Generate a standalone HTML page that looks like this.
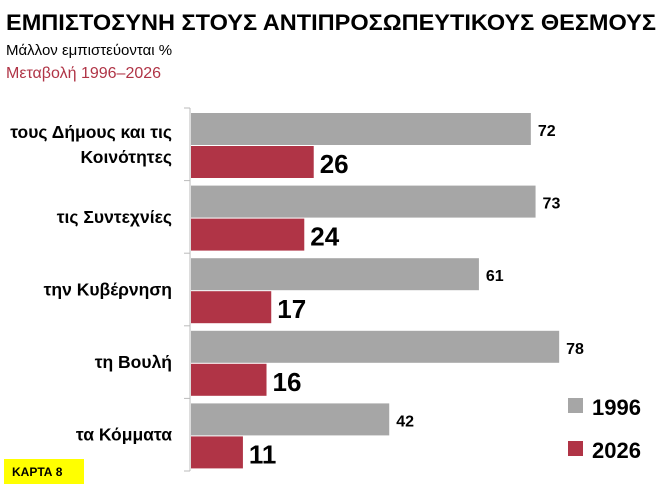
<!DOCTYPE html>
<html><head><meta charset="utf-8"><style>
body{margin:0;background:#fff;width:667px;height:493px;overflow:hidden;font-family:"Liberation Sans","DejaVu Sans",sans-serif}
svg text{font-family:"Liberation Sans","DejaVu Sans",sans-serif}
</style></head><body>
<svg width="667" height="493">
<text x="6" y="30" font-size="22" font-weight="bold" fill="#000" textLength="650" lengthAdjust="spacingAndGlyphs">ΕΜΠΙΣΤΟΣΥΝΗ ΣΤΟΥΣ ΑΝΤΙΠΡΟΣΩΠΕΥΤΙΚΟΥΣ ΘΕΣΜΟΥΣ</text>
<text x="6" y="55" font-size="15" fill="#000">Μάλλον εμπιστεύονται %</text>
<text x="6" y="78" font-size="16" fill="#b03446">Μεταβολή 1996–2026</text>
<g id="plot"></g>
<rect x="568" y="398" width="15" height="15" fill="#a6a6a6"/>
<text x="592" y="415" font-size="22" font-weight="bold">1996</text>
<rect x="568" y="441" width="15" height="15" fill="#b03446"/>
<text x="592" y="458" font-size="22" font-weight="bold">2026</text>
<rect x="4" y="459" width="80" height="25" fill="#ffff00"/>
<text x="12" y="476" font-size="12" font-weight="bold">ΚΑΡΤΑ 8</text>
</svg>
<script>
const categories=[["τους Δήμους και τις","Κοινότητες"],["τις Συντεχνίες"],["την Κυβέρνηση"],["τη Βουλή"],["τα Κόμματα"]];
const values1996=[72,73,61,78,42];
const values2026=[26,24,17,16,11];
const NS="http://www.w3.org/2000/svg";
const g=document.getElementById('plot');
const x0=191,scale=4.72,top0=108,band=72.6;
const xs=v=>x0+v*scale;
function mk(t,a){const e=document.createElementNS(NS,t);for(const k in a)e.setAttribute(k,a[k]);g.appendChild(e);return e;}
const ax=mk('line',{x1:190,y1:top0,x2:190,y2:top0+band*5,stroke:'#bbb'});


for(let i=0;i<=5;i++){const t=mk('line',{x1:184,x2:190,y1:top0+band*i,y2:top0+band*i,stroke:'#bbb'});

}
categories.forEach((c,i)=>{
 const y=top0+band*i;
 const b1=mk('rect',{x:x0,y:y+5,width:xs(values1996[i])-x0,height:32,fill:'#a6a6a6'});
 
 
 const b2=mk('rect',{x:x0,y:y+38,width:xs(values2026[i])-x0,height:32,fill:'#b03446'});
 
 
 const l1=mk('text',{x:xs(values1996[i])+7,y:y+28,'font-size':16,'font-weight':'bold'});l1.textContent=values1996[i];
 
 
 const l2=mk('text',{x:xs(values2026[i])+6,y:y+65,'font-size':26,'font-weight':'bold'});l2.textContent=values2026[i];
 
 
 const cy=y+band/2+6;
 c.forEach((line,j)=>{const t=mk('text',{x:172,y:cy+(j-(c.length-1)/2)*25,'font-size':17.5,'font-weight':'bold','text-anchor':'end'});t.textContent=line;
 
 });
});
</script>
</body></html>
